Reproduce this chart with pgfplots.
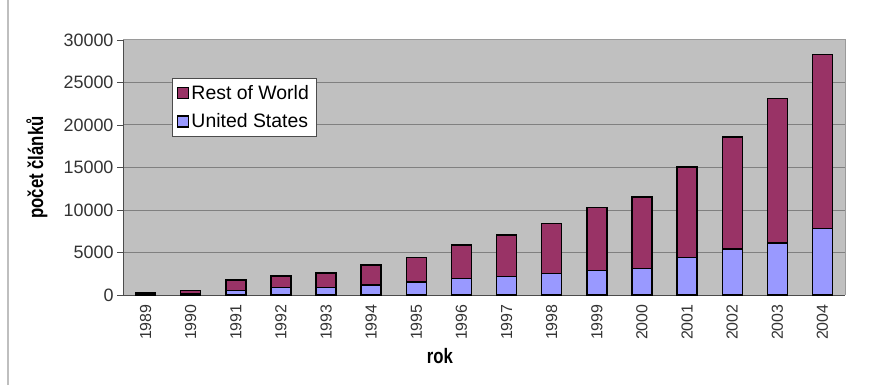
\documentclass[border=0pt]{standalone}
\usepackage{pgfplots}
\pgfplotsset{compat=1.18}
\usepackage{fontspec}
\setmainfont{Liberation Sans}
\newfontfamily\narrowfont[FakeStretch=0.8]{Liberation Sans}
\definecolor{row}{HTML}{993366}
\definecolor{us}{HTML}{9999FF}
\definecolor{bg}{HTML}{C0C0C0}
\definecolor{gridc}{HTML}{808080}
\begin{document}
\begin{tikzpicture}[x=1bp,y=1bp]
\useasboundingbox (0,0) rectangle (870,385);
\fill[white] (0,0) rectangle (870,385);
\draw[black!25, line width=1.5bp] (8,0) -- (8,385);
\begin{axis}[
  at={(123bp,90bp)}, anchor=south west,
  scale only axis, width=722bp, height=255bp,
  ybar stacked, bar width=20bp,
  xmin=-0.5, xmax=15.5, ymin=0, ymax=30000,
  axis background/.style={fill=bg},
  axis line style={draw=none},
  xtick={0,...,15},
  xticklabels={1989,1990,1991,1992,1993,1994,1995,1996,1997,1998,1999,2000,2001,2002,2003,2004},
  major x tick style={draw=none},
  x tick label style={rotate=90, anchor=east, font=\fontsize{16}{18}\selectfont, text=black!80},
  extra x ticks={-0.5,0.5,...,15.5},
  extra x tick labels={},
  extra x tick style={tick style={draw=black!70, line width=0.8bp}, major tick length=6bp, tick pos=bottom, tick align=outside, grid=none},
  ytick={0,5000,...,30000},
  ymajorgrids,
  grid style={draw=gridc, line width=1bp},
  y tick label style={font=\fontsize{18}{20}\selectfont, text=black!80},
  yticklabel style={/pgf/number format/1000 sep={}, /pgf/number format/assume math mode=true},
  scaled y ticks=false,
  tick pos=left, tick align=outside, major tick length=6bp,
  y tick style={draw=black!70, line width=0.8bp},
  xlabel={\narrowfont\bfseries rok},
  ylabel={\narrowfont\bfseries počet článků},
  label style={font=\fontsize{21}{23}\selectfont},
  xlabel style={at={(axis description cs:0.439,0)}, anchor=north, yshift=-50bp},
  ylabel style={at={(axis description cs:0,0.5)}, yshift=72bp},
  legend style={at={(0.068,0.851)}, anchor=north west, draw=black!70, fill=white,
    font=\fontsize{19.5}{21}\selectfont, row sep=9bp, inner xsep=5bp, inner ysep=5bp},
  legend cell align=left,
  reverse legend,
  legend image code/.code={\draw[#1, draw=black, line width=1.2bp] (0bp,-5.5bp) rectangle (11bp,5.5bp);},
  clip=false,
]
\addplot[fill=us, draw=black, line width=1.4bp] coordinates {
(0,100) (1,150) (2,550) (3,850) (4,900) (5,1180) (6,1530) (7,1930)
(8,2160) (9,2560) (10,2870) (11,3110) (12,4410) (13,5430) (14,6100) (15,7830)};
\addlegendentry{United States}
\addplot[fill=row, draw=black, line width=1.4bp] coordinates {
(0,200) (1,350) (2,1200) (3,1400) (4,1700) (5,2360) (6,2870) (7,3940)
(8,4890) (9,5860) (10,7400) (11,8430) (12,10630) (13,13150) (14,17050) (15,20480)};
\addlegendentry{Rest of World}
\draw[black!70, line width=1bp] (rel axis cs:0,0) -- (rel axis cs:0,1);
\draw[black!70, line width=1bp] (rel axis cs:0,0) -- (rel axis cs:1,0);
\draw[gridc!80, line width=1bp] (rel axis cs:0,1) -- (rel axis cs:1,1) -- (rel axis cs:1,0);
\end{axis}
\end{tikzpicture}
\end{document}
